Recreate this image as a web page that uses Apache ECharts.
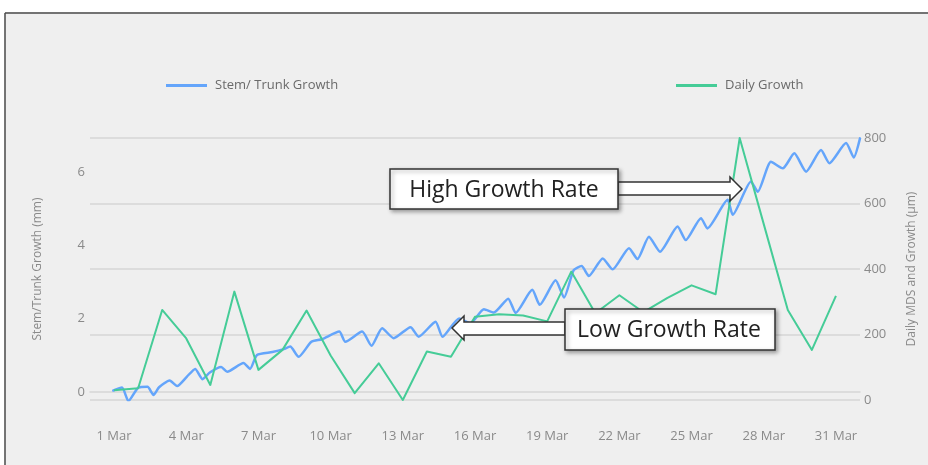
<!DOCTYPE html>
<html>
<head>
<meta charset="utf-8">
<script src="https://cdn.jsdelivr.net/npm/echarts@6.0.0/dist/echarts.min.js"></script>
<style>
  html, body { margin: 0; padding: 0; background: #ffffff; }
  #chart { width: 928px; height: 465px; }
</style>
</head>
<body>
<div id="chart"></div>
<script>
// stem / trunk growth (mm): day position and value
const stemDays = [0.97, 1.33, 1.60, 2.01, 2.39, 2.64, 2.87, 3.31, 3.62, 4.03,
  4.37, 4.68, 4.98, 5.45, 5.70, 6.38, 6.65, 6.94, 7.58, 8.05,
  8.32, 8.67, 9.20, 9.64, 10.36, 10.61, 11.31, 11.70, 12.14, 12.62,
  13.32, 13.66, 14.36, 14.65, 15.34, 15.81, 16.37, 16.78, 17.38, 17.69,
  18.38, 18.69, 19.35, 19.70, 20.10, 20.43, 20.73, 21.31, 21.72, 22.40,
  22.75, 23.23, 23.69, 24.42, 24.76, 25.39, 25.66, 26.50, 26.71, 27.47,
  27.75, 28.30, 28.79, 29.27, 29.76, 30.38, 30.73, 31.42, 31.74, 32.0];
const stemGrowth = [0.04, 0.12, -0.25, 0.12, 0.14, -0.08, 0.13, 0.31, 0.16, 0.42,
  0.63, 0.35, 0.53, 0.68, 0.55, 0.79, 0.63, 1.01, 1.09, 1.17,
  1.24, 0.96, 1.37, 1.44, 1.65, 1.37, 1.65, 1.26, 1.74, 1.47,
  1.77, 1.51, 1.92, 1.51, 2.01, 1.88, 2.26, 2.17, 2.55, 2.16,
  2.79, 2.38, 3.05, 2.58, 3.33, 3.44, 3.17, 3.65, 3.35, 3.93,
  3.63, 4.24, 3.83, 4.52, 4.15, 4.75, 4.47, 5.25, 4.84, 5.75,
  5.47, 6.29, 6.11, 6.52, 6.02, 6.61, 6.25, 6.80, 6.41, 6.93];

// daily growth (µm), one value per day 1..31 Mar
const dailyDays = [1, 2, 3, 4, 5, 6, 7, 8, 9, 10, 11, 12, 13, 14, 15, 16,
  17, 18, 19, 20, 21, 22, 23, 24, 25, 26, 27, 28, 29, 30, 31];
const dailyGrowth = [30, 36, 275, 188, 46, 331, 92, 153, 273, 136, 21, 112, 0, 148, 132, 254,
  262, 258, 240, 392, 265, 320, 268, 312, 350, 323, 800, 537, 275, 153, 318];

// tick labels
const dayTicks = [1, 4, 7, 10, 13, 16, 19, 22, 25, 28, 31];
const stemTicks = [0, 2, 4, 6];

const stemName = 'Stem/ Trunk Growth';
const dailyName = 'Daily Growth';

const blue = '#64a5fb';
const green = '#45cc97';
const labelColor = '#8a8a8a';
const gridColor = '#d6d6d6';
const font = 'Open Sans';

let myChart = echarts.init(document.getElementById('chart'));

myChart.setOption({
  backgroundColor: '#efefef',
  animation: false,
  textStyle: { fontFamily: font },
  grid: { left: 90, right: 68, top: 138, bottom: 65 },
  legend: [
    {
      data: [stemName],
      left: 161,
      top: 74,
      icon: 'rect',
      itemWidth: 41,
      itemHeight: 3,
      itemStyle: { color: blue },
      textStyle: { color: '#6a6a6a', fontSize: 13, fontFamily: font, padding: [0, 0, 0, 3] }
    },
    {
      data: [dailyName],
      left: 671,
      top: 74,
      icon: 'rect',
      itemWidth: 41,
      itemHeight: 3,
      itemStyle: { color: green },
      textStyle: { color: '#6a6a6a', fontSize: 13, fontFamily: font, padding: [0, 0, 0, 3] }
    }
  ],
  xAxis: {
    type: 'value',
    min: 0,
    max: 32,
    offset: 21,
    axisLine: { show: true, lineStyle: { color: gridColor, width: 1.5 } },
    axisTick: { show: false },
    splitLine: { show: false },
    axisLabel: {
      customValues: dayTicks,
      color: labelColor,
      fontSize: 13,
      margin: 9,
      formatter: v => v + ' Mar'
    }
  },
  yAxis: [
    {
      type: 'value',
      position: 'left',
      min: -0.22,
      max: 6.94,
      name: 'Stem/Trunk Growth (mm)',
      nameLocation: 'middle',
      nameRotate: 90,
      nameGap: 46,
      nameTextStyle: { color: labelColor, fontSize: 12 },
      axisLine: { show: false },
      axisTick: { show: false },
      splitLine: { show: false },
      axisLabel: { customValues: stemTicks, color: labelColor, fontSize: 13, margin: 5 }
    },
    {
      type: 'value',
      position: 'right',
      min: 0,
      max: 800,
      interval: 200,
      name: 'Daily MDS and Growth (µm)',
      nameLocation: 'middle',
      nameRotate: 90,
      nameGap: 46,
      nameTextStyle: { color: labelColor, fontSize: 12 },
      axisLine: { show: false },
      axisTick: { show: false },
      splitLine: { show: true, lineStyle: { color: gridColor, width: 1.5 } },
      axisLabel: { color: labelColor, fontSize: 13, margin: 4 }
    }
  ],
  series: [
    {
      name: stemName,
      type: 'line',
      yAxisIndex: 0,
      symbol: 'none',
      smooth: 0.2,
      lineStyle: { color: blue, width: 2.5, join: 'round', cap: 'round' },
      itemStyle: { color: blue },
      data: stemDays.map((d, i) => [d, stemGrowth[i]])
    },
    {
      name: dailyName,
      type: 'line',
      yAxisIndex: 1,
      symbol: 'none',
      lineStyle: { color: green, width: 2, join: 'round' },
      itemStyle: { color: green },
      data: dailyDays.map((d, i) => [d, dailyGrowth[i]])
    }
  ],
  graphic: [
    // white page around the framed panel
    { type: 'rect', z: 100, shape: { x: 0, y: 0, width: 928, height: 12 }, style: { fill: '#ffffff' } },
    { type: 'rect', z: 100, shape: { x: 0, y: 0, width: 4.5, height: 465 }, style: { fill: '#ffffff' } },
    { type: 'line', z: 101, shape: { x1: 5, y1: 13, x2: 928, y2: 13 }, style: { stroke: '#4a4a4a', lineWidth: 1.5 } },
    { type: 'line', z: 101, shape: { x1: 5, y1: 13, x2: 5, y2: 465 }, style: { stroke: '#4a4a4a', lineWidth: 1.5 } },

    // High Growth Rate callout
    {
      type: 'polygon', z: 110,
      shape: { points: [[618, 182], [730, 182], [730, 177], [742, 189], [730, 201], [730, 195], [618, 195]] },
      style: { fill: '#ffffff', stroke: '#333333', lineWidth: 1.5 }
    },
    {
      type: 'rect', z: 111,
      shape: { x: 390, y: 169, width: 228, height: 40 },
      style: {
        fill: '#ffffff', stroke: '#333333', lineWidth: 1.5,
        shadowBlur: 4, shadowOffsetX: 2, shadowOffsetY: 2, shadowColor: 'rgba(0,0,0,0.35)'
      }
    },
    {
      type: 'text', z: 112,
      x: 504, y: 190,
      style: {
        text: 'High Growth Rate', fill: '#222222', fontSize: 23, fontFamily: font,
        align: 'center', verticalAlign: 'middle'
      }
    },

    // Low Growth Rate callout
    {
      type: 'polygon', z: 110,
      shape: { points: [[565, 322], [464, 322], [464, 316], [452, 328], [464, 340], [464, 335], [565, 335]] },
      style: { fill: '#ffffff', stroke: '#333333', lineWidth: 1.5 }
    },
    {
      type: 'rect', z: 111,
      shape: { x: 565, y: 309, width: 210, height: 41 },
      style: {
        fill: '#ffffff', stroke: '#333333', lineWidth: 1.5,
        shadowBlur: 4, shadowOffsetX: 2, shadowOffsetY: 2, shadowColor: 'rgba(0,0,0,0.35)'
      }
    },
    {
      type: 'text', z: 112,
      x: 669, y: 330,
      style: {
        text: 'Low Growth Rate', fill: '#222222', fontSize: 23, fontFamily: font,
        align: 'center', verticalAlign: 'middle'
      }
    }
  ]
});
</script>
</body>
</html>
